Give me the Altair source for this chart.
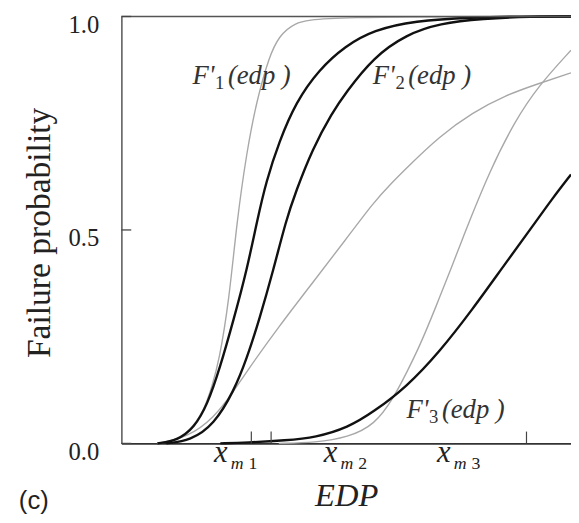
import altair as alt
import pandas as pd

# EDP axis runs 0..100 across the plotted range; p = failure probability
g1_x = [8, 10.3, 14.7, 18.4, 20.2, 21.7, 23.9, 25.7, 27.9, 30.0, 32.9, 35.1, 38.2, 43.9, 100]
g1_p = [0, 0.002, 0.021, 0.076, 0.136, 0.192, 0.33, 0.522, 0.684, 0.799, 0.908, 0.954, 0.984, 1.0, 1.0]

b1_x = [8, 12.5, 16.2, 19.1, 21.9, 25.0, 27.9, 30.2, 32.2, 35.1, 38.8, 43.9, 49.8, 56.1, 65.1, 78.1, 89.3, 100]
b1_p = [0, 0.007, 0.037, 0.09, 0.176, 0.291, 0.406, 0.522, 0.614, 0.707, 0.799, 0.875, 0.931, 0.968, 0.99, 0.998, 1.0, 1.0]

b2_x = [10, 15.4, 20.6, 25.0, 27.9, 30.7, 33.8, 36.6, 38.8, 42.5, 46.9, 49.8, 56.1, 63.4, 70.8, 80.3, 91.4, 100]
b2_p = [0, 0.007, 0.044, 0.122, 0.199, 0.291, 0.406, 0.522, 0.59, 0.69, 0.775, 0.82, 0.905, 0.958, 0.984, 0.995, 1.0, 1.0]

g2_x = [8, 14.7, 20.6, 25.0, 27.9, 35.1, 42.5, 49.8, 56.1, 60.1, 63.4, 70.8, 78.1, 85.3, 92.8, 100]
g2_p = [0, 0.014, 0.06, 0.122, 0.169, 0.275, 0.376, 0.476, 0.565, 0.61, 0.645, 0.72, 0.775, 0.815, 0.843, 0.868]

g3_x = [35, 43.2, 50.4, 56.4, 60.5, 63.4, 66.4, 70.0, 73.7, 75.9, 77.4, 81.8, 87.5, 92.8, 100]
g3_p = [0, 0.002, 0.014, 0.044, 0.106, 0.165, 0.229, 0.321, 0.42, 0.48, 0.52, 0.635, 0.755, 0.838, 0.921]

b3_x = [22, 27.9, 36.6, 43.2, 50.4, 56.1, 63.4, 70.8, 78.1, 85.3, 91.9, 95.8, 100]
b3_p = [0, 0.002, 0.007, 0.014, 0.037, 0.074, 0.132, 0.215, 0.314, 0.42, 0.515, 0.573, 0.630]

y_ticks = [0.0, 0.5, 1.0]
y_labels = [0.0, 0.5, 1.0]
x_ticks = [28.9, 33.3, 90.1]
top_line = [1.0]

f_names = ["1", "2", "3"]
f_x = [15.8, 55.9, 63.4]
f_y = [0.841, 0.841, 0.060]

xm_names = ["1", "2", "3"]
xm_x = [20.6, 45.0, 70.2]
xm_y = [-0.044, -0.044, -0.044]

rows = []
for name, kind, xs, ps in [("g1", "gray", g1_x, g1_p), ("g2", "gray", g2_x, g2_p), ("g3", "gray", g3_x, g3_p),
                           ("b1", "black", b1_x, b1_p), ("b2", "black", b2_x, b2_p), ("b3", "black", b3_x, b3_p)]:
    for i, (xv, pv) in enumerate(zip(xs, ps)):
        rows.append({"curve": name, "kind": kind, "i": i, "x": xv, "p": pv})
df = pd.DataFrame(rows)

SERIF = "Times New Roman, Liberation Serif, Nimbus Roman, DejaVu Serif, serif"
SANS = "Arial, Liberation Sans, DejaVu Sans, sans-serif"
x_scale = alt.Scale(domain=[0, 100], nice=False, zero=False)
y_scale = alt.Scale(domain=[0, 1], nice=False, zero=False)

x_axis = alt.Axis(labels=False, ticks=False, grid=False, domain=True, domainColor="#333", domainWidth=1.6,
                  title="EDP", titleFont=SERIF, titleFontStyle="italic", titleFontWeight="normal",
                  titleFontSize=33, titleColor="#222", titleX=228, titleY=63,
                  titleBaseline="alphabetic", titleAlign="center")
y_axis = alt.Axis(values=y_labels, format=".1f", ticks=False, grid=False, domain=True, domainColor="#555",
                  domainWidth=1.5, labelPadding=23, labelFont=SERIF, labelFontSize=25, labelColor="#222",
                  labelOffset=8, labelFlush=False,
                  title="Failure probability", titleFont=SERIF, titleFontSize=34, titleFontWeight="normal",
                  titleColor="#222", titleAngle=270, titleX=-83, titleY=219, titleBaseline="middle",
                  titleAlign="center")

X = lambda f: alt.X(f, type="quantitative", scale=x_scale, axis=x_axis)
Y = lambda f: alt.Y(f, type="quantitative", scale=y_scale, axis=y_axis)

base = alt.Chart(df)
gray = base.transform_filter(alt.datum.kind == "gray").mark_line(
    color="#a8a8a8", strokeWidth=1.4, interpolate="basis"
).encode(x=X("x"), y=Y("p"), detail="curve:N", order="i:Q")
black = base.transform_filter(alt.datum.kind == "black").mark_line(
    color="#111", strokeWidth=2.4, interpolate="basis"
).encode(x=X("x"), y=Y("p"), detail="curve:N", order="i:Q")

top = alt.Chart(pd.DataFrame({"v": top_line})).mark_rule(color="#555", strokeWidth=1.6).encode(
    y=Y("v"), x=alt.value(0), x2=alt.value(456))
yt = alt.Chart(pd.DataFrame({"v": y_ticks})).mark_rule(color="#444", strokeWidth=1.3).encode(
    y=Y("v"), x=alt.value(0), x2=alt.value(10))
xt = alt.Chart(pd.DataFrame({"v": x_ticks})).mark_rule(color="#444", strokeWidth=1.2).encode(
    x=X("v"), y=alt.value(433), y2=alt.value(421))

fdf = pd.DataFrame({"n": f_names, "x": f_x, "y": f_y})
f_main = alt.Chart(fdf).mark_text(align="left", baseline="alphabetic", font=SERIF, fontStyle="italic",
                                  fontSize=27, color="#333").encode(x=X("x"), y=Y("y"), text=alt.value("F'"))
f_sub = alt.Chart(fdf).mark_text(align="left", baseline="alphabetic", font=SERIF, fontSize=19, dx=23, dy=5,
                                 color="#333").encode(x=X("x"), y=Y("y"), text="n:N")
f_arg = alt.Chart(fdf).mark_text(align="left", baseline="alphabetic", font=SERIF, fontStyle="italic",
                                 fontSize=27, dx=36, color="#333").encode(x=X("x"), y=Y("y"), text=alt.value("(edp )"))

mdf = pd.DataFrame({"n": xm_names, "x": xm_x, "y": xm_y})
m_x = alt.Chart(mdf).mark_text(align="left", baseline="alphabetic", font=SERIF, fontStyle="italic",
                               fontSize=31, color="#222").encode(x=X("x"), y=Y("y"), text=alt.value("x"))
m_m = alt.Chart(mdf).mark_text(align="left", baseline="alphabetic", font=SERIF, fontStyle="italic",
                               fontSize=18, dx=17, dy=7, color="#222").encode(x=X("x"), y=Y("y"), text=alt.value("m"))
m_n = alt.Chart(mdf).mark_text(align="left", baseline="alphabetic", font=SERIF,
                               fontSize=18, dx=35, dy=7, color="#222").encode(x=X("x"), y=Y("y"), text="n:N")

chart = alt.layer(gray, black, top, yt, xt, f_main, f_sub, f_arg, m_x, m_m, m_n).properties(
    width=456, height=433,
    autosize=alt.AutoSizeParams(type="none"),
    padding={"left": 115, "top": 5, "right": 0, "bottom": 69},
    background="white",
    title=alt.TitleParams(text="(c)", orient="bottom", anchor="start", frame="group", font=SANS,
                          fontSize=26, fontWeight="normal", color="#222", dx=-104, dy=-3, offset=0,
                          baseline="alphabetic"),
).configure_view(stroke=None)

chart.save("out.html", embed_options={"renderer": "svg", "actions": False})
